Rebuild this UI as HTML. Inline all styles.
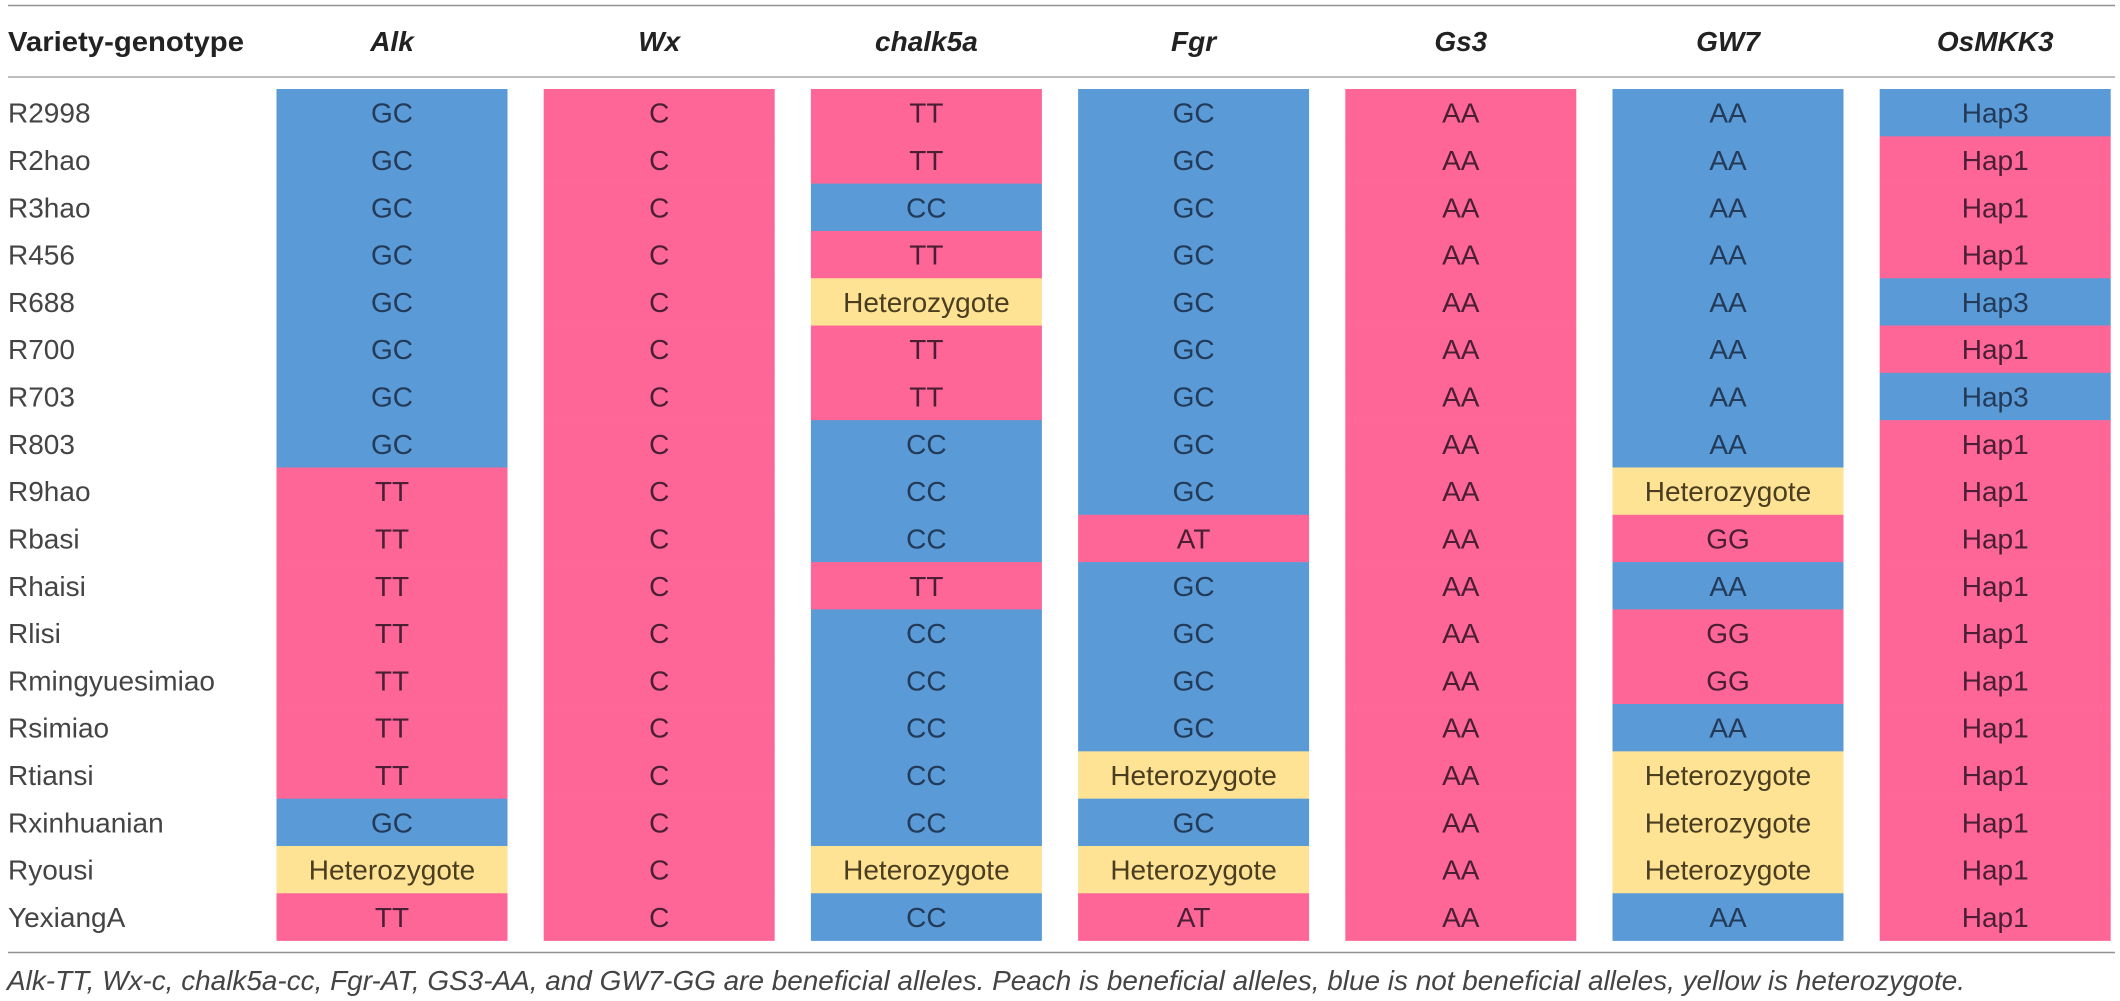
<!DOCTYPE html>
<html lang="en">
<head>
<meta charset="utf-8">
<title>Rice variety genotypes</title>
<style>
html,body{margin:0;padding:0;background:#fff;width:2120px;height:1001px;overflow:hidden}
svg{display:block;font-family:"Liberation Sans",Arial,sans-serif}
</style>
</head>
<body>
<svg id="table" xmlns="http://www.w3.org/2000/svg" width="2120" height="1001" viewBox="0 0 2120 1001">
  <rect x="0" y="0" width="2120" height="1001" fill="#fff"/>
  <line x1="8" x2="2115" y1="5.5" y2="5.5" stroke="#929292" stroke-width="1.5"/>
  <line x1="8" x2="2115" y1="77" y2="77" stroke="#a8a8a8" stroke-width="1.5"/>
  <line x1="8" x2="2115" y1="952.5" y2="952.5" stroke="#929292" stroke-width="1.5"/>
  <text x="8" y="51" font-size="28" font-weight="700" fill="#222" textLength="236" lengthAdjust="spacingAndGlyphs">Variety-genotype</text>
  <text x="7" y="990" font-size="28" font-style="italic" fill="#444" textLength="1958" lengthAdjust="spacingAndGlyphs">Alk-TT, Wx-c, chalk5a-cc, Fgr-AT, GS3-AA, and GW7-GG are beneficial alleles. Peach is beneficial alleles, blue is not beneficial alleles, yellow is heterozygote.</text>
  <g id="rows"></g>
</svg>
<script>
const genes = ["Alk", "Wx", "chalk5a", "Fgr", "Gs3", "GW7", "OsMKK3"];
const beneficial = ["TT", "C", "TT", "AT", "AA", "GG", "Hap1"];
const varieties = ["R2998", "R2hao", "R3hao", "R456", "R688", "R700", "R703", "R803", "R9hao", "Rbasi", "Rhaisi", "Rlisi", "Rmingyuesimiao", "Rsimiao", "Rtiansi", "Rxinhuanian", "Ryousi", "YexiangA"];
const H = "Heterozygote";
const alk = ["GC", "GC", "GC", "GC", "GC", "GC", "GC", "GC", "TT", "TT", "TT", "TT", "TT", "TT", "TT", "GC", H, "TT"];
const wx = ["C", "C", "C", "C", "C", "C", "C", "C", "C", "C", "C", "C", "C", "C", "C", "C", "C", "C"];
const chalk5a = ["TT", "TT", "CC", "TT", H, "TT", "TT", "CC", "CC", "CC", "TT", "CC", "CC", "CC", "CC", "CC", H, "CC"];
const fgr = ["GC", "GC", "GC", "GC", "GC", "GC", "GC", "GC", "GC", "AT", "GC", "GC", "GC", "GC", H, "GC", H, "AT"];
const gs3 = ["AA", "AA", "AA", "AA", "AA", "AA", "AA", "AA", "AA", "AA", "AA", "AA", "AA", "AA", "AA", "AA", "AA", "AA"];
const gw7 = ["AA", "AA", "AA", "AA", "AA", "AA", "AA", "AA", H, "GG", "AA", "GG", "GG", "AA", H, H, H, "AA"];
const osmkk3 = ["Hap3", "Hap1", "Hap1", "Hap1", "Hap3", "Hap1", "Hap3", "Hap1", "Hap1", "Hap1", "Hap1", "Hap1", "Hap1", "Hap1", "Hap1", "Hap1", "Hap1", "Hap1"];
const columns = [alk, wx, chalk5a, fgr, gs3, gw7, osmkk3];

const NS = "http://www.w3.org/2000/svg";
const root = document.getElementById("rows");
const colX = i => 276.5 + i * 267.2;
const colW = 231;
const rowY = j => 89 + j * 47.31;
const rowH = 47.31;
function fillFor(value, i) {
  if (value === H) return "#FEE395";
  return value === beneficial[i] ? "#FE6698" : "#5A9AD6";
}
function inkFor(value, i) {
  if (value === H) return "#4a3d20";
  return value === beneficial[i] ? "#4a1f34" : "#233a58";
}
genes.forEach((gene, i) => {
  const head = document.createElementNS(NS, "text");
  
  
  head.setAttribute("x", colX(i) + colW / 2);
  head.setAttribute("y", 51);
  head.setAttribute("text-anchor", "middle");
  head.setAttribute("font-size", "28");
  head.setAttribute("font-weight", "700");
  head.setAttribute("font-style", "italic");
  head.setAttribute("fill", "#222");
  head.textContent = gene;
  root.appendChild(head);
});
varieties.forEach((name, j) => {
  const label = document.createElementNS(NS, "text");
  
  
  label.setAttribute("x", 8);
  label.setAttribute("y", rowY(j) + rowH / 2 + 10);
  label.setAttribute("font-size", "28");
  label.setAttribute("fill", "#444");
  label.textContent = name;
  root.appendChild(label);
  columns.forEach((col, i) => {
    const v = col[j];
    const cell = document.createElementNS(NS, "rect");
    
    
    cell.setAttribute("x", colX(i));
    cell.setAttribute("y", rowY(j));
    cell.setAttribute("width", colW);
    cell.setAttribute("height", rowH + 0.3);
    cell.setAttribute("fill", fillFor(v, i));
    root.appendChild(cell);
    const t = document.createElementNS(NS, "text");
    
    
    t.setAttribute("x", colX(i) + colW / 2);
    t.setAttribute("y", rowY(j) + rowH / 2 + 10);
    t.setAttribute("text-anchor", "middle");
    t.setAttribute("font-size", "28");
    t.setAttribute("fill", inkFor(v, i));
    t.textContent = v;
    root.appendChild(t);
  });
});
</script>
</body>
</html>
